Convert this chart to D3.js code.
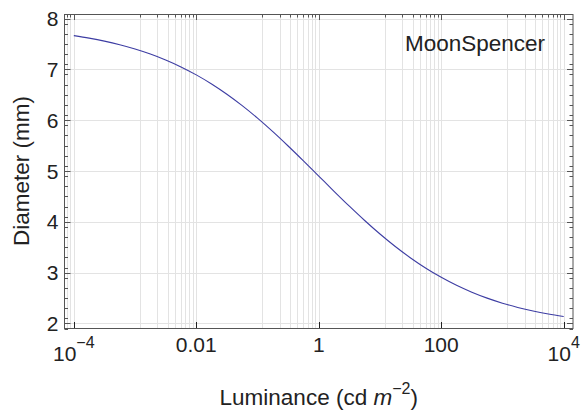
<!DOCTYPE html>
<html>
<head>
<meta charset="utf-8">
<script src="https://cdn.jsdelivr.net/npm/d3@7"></script>
<style>
  html, body { margin: 0; padding: 0; background: #fff; }
  svg { display: block; font-family: "Liberation Sans", Arial, Helvetica, sans-serif; }
</style>
</head>
<body>
<svg id="chart" width="581" height="413"></svg>
<script>
// Luminance (cd m^-2) sample points and the pupil diameter
const luminance = [1e-4, 1.778e-4, 3.162e-4, 5.623e-4, 1e-3, 1.778e-3, 3.162e-3, 5.623e-3,
  1e-2, 1.778e-2, 3.162e-2, 5.623e-2, 0.1, 0.1778, 0.3162, 0.5623,
  1, 1.778, 3.162, 5.623, 10, 17.78, 31.62, 56.23,
  100, 177.8, 316.2, 562.3, 1000, 1778, 3162, 5623, 10000];
const diameter = [7.665, 7.615, 7.556, 7.485, 7.401, 7.302, 7.185, 7.049,
  6.892, 6.713, 6.511, 6.286, 6.040, 5.774, 5.492, 5.199,
  4.900, 4.601, 4.308, 4.026, 3.760, 3.514, 3.289, 3.087,
  2.908, 2.751, 2.615, 2.498, 2.399, 2.315, 2.244, 2.185, 2.135];

const xMajorTicks = [1e-4, 1e-2, 1, 1e2, 1e4];
const xMajorLabels = [["10", "\u22124"], ["0.01", ""], ["1", ""], ["100", ""], ["10", "4"]];
const xMinorFractions = [0.12, 0.23, 0.34, 0.445, 0.557, 0.661, 0.765, 0.878];
const yMajorTicks = [2, 3, 4, 5, 6, 7, 8];
const yMinorTicks = d3.range(19, 81, 2).map(v => v / 10).filter(v => !Number.isInteger(v));
const seriesLabel = "MoonSpencer";

const svg = d3.select("#chart");
const L = 64.5, R = 573, T = 14, B = 328;

const x = d3.scaleLog().domain([Math.pow(10, -4.152), Math.pow(10, 4.152)]).range([L, R]);
const y = d3.scaleLinear().domain([1.91, 8.09]).range([B, T]);

// minor x positions: fractions of each major (below the major)
const xMinor = [];
xMajorTicks.forEach(m => xMinorFractions.forEach(f => {
  const v = m * f;
  if (x(v) > L) xMinor.push(v);
}));

const grid = svg.append("g");
grid.selectAll("line.vx").data(xMinor.concat(xMajorTicks)).join("line")
  .attr("x1", d => Math.round(x(d)) + 0.5).attr("x2", d => Math.round(x(d)) + 0.5)
  .attr("y1", T).attr("y2", B)
  .attr("stroke", "#e3e3e3").attr("stroke-width", 1);
grid.selectAll("line.hy").data(yMajorTicks).join("line")
  .attr("x1", L).attr("x2", R)
  .attr("y1", d => Math.round(y(d)) + 0.5).attr("y2", d => Math.round(y(d)) + 0.5)
  .attr("stroke", "#e3e3e3").attr("stroke-width", 1);

// curve
const line = d3.line().x((d, i) => x(luminance[i])).y(d => y(d)).curve(d3.curveMonotoneX);
svg.append("path").datum(diameter)
  .attr("d", line)
  .attr("fill", "none").attr("stroke", "#3d3da3").attr("stroke-width", 1.1);

// frame
const frameColor = "#555";
svg.append("rect").attr("x", L).attr("y", T + 0.5).attr("width", R - L).attr("height", B - T)
  .attr("fill", "none").attr("stroke", frameColor).attr("stroke-width", 1);

const ticks = svg.append("g").attr("stroke", frameColor).attr("stroke-width", 1);
// bottom major ticks
ticks.selectAll("line.bx").data(xMajorTicks).join("line")
  .attr("x1", d => Math.round(x(d)) + 0.5).attr("x2", d => Math.round(x(d)) + 0.5)
  .attr("y1", B).attr("y2", B - 6).attr("stroke", "#222");
// top ticks
ticks.selectAll("line.tx").data(xMajorTicks).join("line")
  .attr("x1", d => Math.round(x(d)) + 0.5).attr("x2", d => Math.round(x(d)) + 0.5)
  .attr("y1", T).attr("y2", T + 6);
ticks.selectAll("line.txm").data(xMinor).join("line")
  .attr("x1", d => Math.round(x(d)) + 0.5).attr("x2", d => Math.round(x(d)) + 0.5)
  .attr("y1", T).attr("y2", T + 3.5);
// left/right ticks
[[L, 1], [R, -1]].forEach(([x0, dir]) => {
  ticks.append("g").selectAll("line").data(yMajorTicks).join("line")
    .attr("x1", x0).attr("x2", x0 + dir * 6)
    .attr("y1", d => Math.round(y(d)) + 0.5).attr("y2", d => Math.round(y(d)) + 0.5);
  ticks.append("g").selectAll("line").data(yMinorTicks).join("line")
    .attr("x1", x0).attr("x2", x0 + dir * 3.5)
    .attr("y1", d => Math.round(y(d)) + 0.5).attr("y2", d => Math.round(y(d)) + 0.5);
});

// y tick labels
svg.append("g").selectAll("text").data(yMajorTicks).join("text")
  .attr("x", 58.5).attr("y", d => y(d) + 7.5)
  .attr("text-anchor", "end").attr("font-size", 21).attr("fill", "#222")
  .text(d => d);

// x tick labels
const xl = svg.append("g");
xMajorTicks.forEach((t, i) => {
  const [base, sup] = xMajorLabels[i];
  const txt = xl.append("text")
    .attr("x", x(t)).attr("y", sup ? 361 : 351.5)
    .attr("text-anchor", "middle").attr("font-size", 21).attr("fill", "#222");
  txt.append("tspan").text(base);
  if (sup) txt.append("tspan").attr("font-size", 16).attr("dy", -12.7).text(sup);
});

// axis titles
const xt = svg.append("text").attr("x", (L + R) / 2).attr("y", 405)
  .attr("text-anchor", "middle").attr("font-size", 22.5).attr("fill", "#222");
xt.append("tspan").text("Luminance (cd ");
xt.append("tspan").attr("font-style", "italic").text("m");
xt.append("tspan").attr("font-size", 16).attr("dy", -11).text("\u22122");
xt.append("tspan").attr("dy", 11).text(")");

svg.append("text")
  .attr("transform", `translate(28.5, ${(T + B) / 2}) rotate(-90)`)
  .attr("text-anchor", "middle").attr("font-size", 22.5).attr("fill", "#222")
  .text("Diameter (mm)");

// series label
svg.append("text").attr("x", 405).attr("y", 51)
  .attr("font-size", 22.5).attr("fill", "#222").text(seriesLabel);
</script>
</body>
</html>
